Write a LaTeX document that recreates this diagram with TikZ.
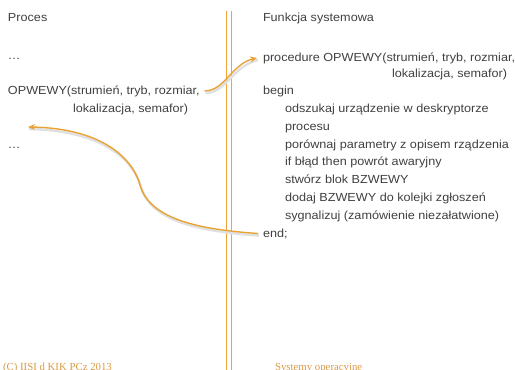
\documentclass[tikz,border=0pt]{standalone}
\usepackage{fontspec}
\setmainfont{Liberation Sans}[FakeStretch=1.08]
\newfontfamily\footfont{Liberation Serif}
\usetikzlibrary{arrows.meta}

\definecolor{txtgray}{HTML}{404040}
\definecolor{ruleorange}{HTML}{F4A33A}
\definecolor{linkorange}{HTML}{E9A236}
\definecolor{footorange}{HTML}{D99A45}

\begin{document}
\begin{tikzpicture}
[x=1pt,y=-1pt,
 every node/.style={inner sep=0pt,outer sep=0pt,anchor=base west,text=txtgray,font=\fontsize{11.7}{14}\selectfont},
 foot/.style={text=footorange,font=\footfont\fontsize{10.8}{12}\selectfont},
 sep/.style={draw=ruleorange,line width=0.8pt},
 link/.style={draw=linkorange,line width=1.4pt,-{Stealth[length=7pt,width=6pt]},
  preaction={draw=black!12,line width=2.5pt,-,transform canvas={shift={(1pt,-2pt)}}}}]
\useasboundingbox (0,0) rectangle (515,370);
\clip (0,0) rectangle (515,370);
% left column: the calling process
\node (proces) at (8,21)   {Proces};
\node (dotsA)  at (8,59)   {…};
\node (call)   at (8,94)   {OPWEWY(strumień, tryb, rozmiar,};
\node (callB)  at (73,112) {lokalizacja, semafor)};
\node (dotsB)  at (8,148)  {…};
% right column: the system function
\node (func)   at (263,21)  {Funkcja systemowa};
\node (proc)   at (263,61)  {procedure OPWEWY(strumień, tryb, rozmiar,};
\node (procB)  at (392,77)  {lokalizacja, semafor)};
\node (kbegin) at (263,94)  {begin};
\node (s1)     at (285,112) {odszukaj urządzenie w deskryptorze};
\node (s1B)    at (285,130) {procesu};
\node (s2)     at (285,148) {porównaj parametry z opisem rządzenia};
\node (s3)     at (285,165) {if błąd then powrót awaryjny};
\node (s4)     at (285,183) {stwórz blok BZWEWY};
\node (s5)     at (285,201) {dodaj BZWEWY do kolejki zgłoszeń};
\node (s6)     at (285,219) {sygnalizuj (zamówienie niezałatwione)};
\node (kend)   at (263,237) {end;};
% footer
\node[foot] (copy)   at (3,370.5)   {(C) IISI d KIK PCz 2013};
\node[foot] (course) at (275,370.5) {Systemy operacyjne};
% double rule between the columns
\draw[sep] (226,11) -- (226,370);
\draw[sep] (231,11) -- (231,370);
% call and return
\coordinate (bend) at (140,185);
\coordinate (ret)  at (28,127);
\draw[link] ([xshift=5pt]call.east) .. controls +(20,0) and +(-25,6) .. ([xshift=-6pt]proc.west);
\draw[link] ([xshift=-5pt]kend.west) .. controls +(-57,-4) and +(10,35) .. (bend)
            .. controls +(-10,-35) and +(62,1) .. (ret);
\end{tikzpicture}
\end{document}
